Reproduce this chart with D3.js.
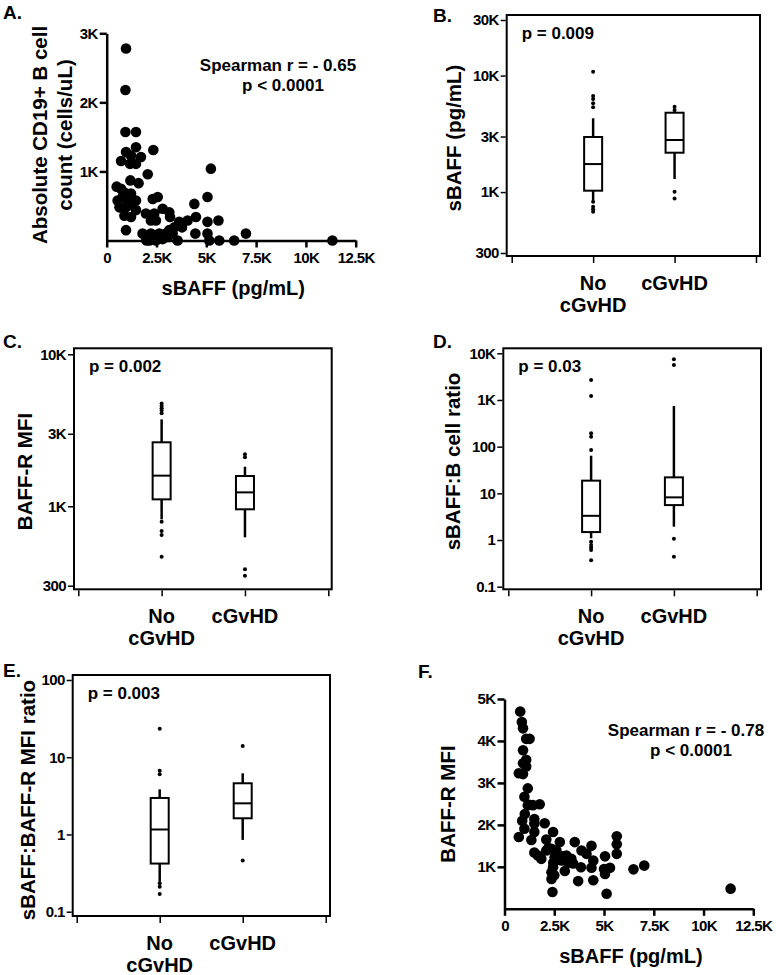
<!DOCTYPE html>
<html>
<head>
<meta charset="utf-8">
<script src="https://cdn.jsdelivr.net/npm/d3@7"></script>
<style>
    body { margin: 0; background: #fff; }
    svg { display: block; font-family: 'Liberation Sans', Arial, Helvetica, sans-serif; font-weight: bold; }
</style>
</head>
<body>
<svg width="776" height="975"></svg>
<script>
// ---- data ----
var categories = ['No cGvHD', 'cGvHD'];

// A: sBAFF (pg/mL) vs absolute CD19+ B cell count (cells/uL)
var aBaff = [970, 940, 940, 1470, 970, 1470, 1220, 1720, 720, 1170, 1470, 2060, 1190, 1600, 500,
    720, 970, 1220, 550, 800, 1140, 1470, 640, 970, 1300, 1470, 890, 1220, 970, 2340, 2560, 2310,
    2810, 2390, 1970, 3140, 3180, 2220, 2470, 3640, 3780, 4060, 3390, 3140, 1800, 1970, 2220, 2640,
    2970, 3310, 3560, 2470, 2810, 3060, 4400, 4480, 5060, 5230, 5060, 5610, 4450, 5060, 5150, 5650,
    6400, 6990, 11330, 2000, 2140, 1050, 850];
var aBcells = [2780, 2180, 1570, 1570, 1280, 1350, 1230, 1210, 1150, 1110, 1110, 960, 870, 830, 780,
    750, 680, 680, 580, 630, 580, 580, 480, 480, 510, 440, 360, 340, 150, 1310, 630, 600,
    460, 390, 390, 410, 340, 290, 290, 270, 190, 290, 190, 150, 100, 50, 100, 100,
    100, 100, 0, 0, 20, 50, 530, 340, 630, 1040, 270, 290, 100, 100, 0, 0,
    0, 100, 0, 0, 0, 560, 700];

// F: sBAFF (pg/mL) vs BAFF-R MFI
var fBaff = [790, 870, 930, 1090, 1260, 930, 1090, 930, 720, 930, 1090, 1170, 1000, 1170, 1430, 1770,
    1020, 1500, 890, 1500, 2020, 1000, 1500, 720, 2440, 1350, 2100, 1500, 1680, 1850, 2100, 2360,
    2610, 2780, 2520, 2860, 3110, 3360, 3450, 2440, 2360, 2360, 3030, 3530, 3870, 4120, 4370, 4460,
    4370, 3840, 3700, 4460, 5050, 5050, 5300, 5640, 5640, 5640, 6480, 7020, 5130, 2410, 11360,
    2200, 2600, 2900, 3200, 5000, 1250, 2450, 2500];
var fMfi = [4700, 4450, 4300, 4050, 4050, 3780, 3550, 3470, 3230, 3210, 3390, 2870, 2670, 2470, 2470, 2490,
    2260, 2140, 2100, 2030, 2040, 1910, 1830, 1710, 1830, 1640, 1650, 1340, 1270, 1190, 1390, 1430,
    1390, 1590, 1230, 1150, 1270, 1190, 1080, 990, 870, 710, 900, 1590, 1390, 1310, 1500, 1150,
    980, 990, 660, 680, 1250, 830, 980, 1730, 1540, 1310, 940, 1030, 360, 400, 480,
    1450, 1200, 1250, 1100, 950, 2480, 1100, 800];

var scatterXTicks = [0, 2500, 5000, 7500, 10000, 12500];
var aYTicks = [1000, 2000, 3000];
var fYTicks = [1000, 2000, 3000, 4000, 5000];

// box plots: [lower whisker, Q1, median, Q3, upper whisker] per category, plus outliers
var bStats = [[855, 1028, 1740, 2970, 4300], [1294, 2178, 2800, 4800, 5000]];
var bOutliers = [[10800, 6680, 6300, 5780, 5340, 826, 749, 711, 679], [5400, 5060, 1007, 881]];
var bTicks = [300, 1000, 3000, 10000, 30000];

var cStats = [[820, 1110, 1590, 2635, 3730], [624, 955, 1234, 1581, 1820]];
var cOutliers = [[4750, 4570, 4415, 4260, 4095, 790, 687, 646, 466], [2200, 2100, 385, 349]];
var cTicks = [300, 1000, 3000, 10000];

var dStats = [[1.09, 1.48, 3.3, 18.7, 64], [1.93, 5.6, 8.2, 22, 743]];
var dOutliers = [[2680, 1220, 193, 164, 85, 0.92, 0.78, 0.69, 0.61, 0.37], [7430, 5620, 1.07, 0.44]];
var dTicks = [0.1, 1, 10, 100, 1000, 10000];

var eStats = [[0.245, 0.42, 1.16, 2.97, 3.84], [0.85, 1.62, 2.53, 4.6, 6.2]];
var eOutliers = [[23.4, 6.7, 6.0, 0.233, 0.211, 0.169], [14, 0.46]];
var eTicks = [0.1, 1, 10, 100];

// ---- drawing ----
var svg = d3.select('svg');

function kFormat(d) {
    if (d >= 1000) {
        return (d / 1000) + 'K';
    }
    return String(d);
}

function styleAxis(g, width) {
    g.attr('font-family', null).attr('font-size', null);
    g.selectAll('line').attr('stroke', '#000').attr('stroke-width', width);
    g.selectAll('path').attr('stroke', '#000').attr('stroke-width', width);
    g.selectAll('text')
        .attr('fill', '#000')
        .style('font-size', '15px')
        .style('letter-spacing', '-0.6px');
}

function panelLabel(text, x, y) {
    svg.append('text')
        .attr('x', x)
        .attr('y', y)
        .style('font-size', '19px')
        .text(text);
}

function yTitle(lines, cx, cy) {
    var t = svg.append('text')
        .attr('transform', 'translate(' + cx + ',' + cy + ') rotate(-90)')
        .attr('text-anchor', 'middle')
        .style('font-size', '20.5px');
    lines.forEach(function (line, i) {
        t.append('tspan')
            .attr('x', 0)
            .attr('dy', i === 0 ? '0.35em' : '1.2em')
            .text(line);
    });
}

function scatterPanel(o) {
    var x = d3.scaleLinear().domain([0, 12500]).range([o.left, o.right]),
        y = d3.scaleLinear().domain([0, o.yMax]).range([o.bottom, o.top]);

    var gx = svg.append('g')
        .attr('transform', 'translate(0,' + o.bottom + ')')
        .call(d3.axisBottom(x).tickValues(scatterXTicks).tickFormat(kFormat)
            .tickSize(7).tickSizeOuter(0).tickPadding(5));
    styleAxis(gx, 2.5);

    var gy = svg.append('g')
        .attr('transform', 'translate(' + o.left + ',0)')
        .call(d3.axisLeft(y).tickValues(o.yTicks).tickFormat(kFormat)
            .tickSize(7).tickSizeOuter(0).tickPadding(2));
    styleAxis(gy, 2.5);

    svg.append('g').selectAll('circle')
        .data(o.xs)
        .enter()
        .append('circle')
        .attr('cx', function (d) { return x(d); })
        .attr('cy', function (d, i) { return y(o.ys[i]); })
        .attr('r', 5.3)
        .attr('fill', '#000');

    svg.append('text')
        .attr('x', (o.left + o.right) / 2 + 2)
        .attr('y', o.bottom + 54)
        .attr('text-anchor', 'middle')
        .style('font-size', '20px')
        .text('sBAFF (pg/mL)');

    svg.append('text')
        .attr('x', o.statX)
        .attr('y', o.statY)
        .attr('text-anchor', 'middle')
        .style('font-size', '17px')
        .text(o.statText);
    svg.append('text')
        .attr('x', o.statX + 5)
        .attr('y', o.statY + 20)
        .attr('text-anchor', 'middle')
        .style('font-size', '17px')
        .text('p < 0.0001');
}

function boxPanel(o) {
    var y = d3.scaleLog().domain(o.yDomain).range([o.yBottom, o.yTop]),
        x = d3.scaleLinear().domain([0, 3]).range(o.xRange),
        boxWidth = 18;

    svg.append('rect')
        .attr('x', o.frame[0])
        .attr('y', o.frame[1])
        .attr('width', o.frame[2] - o.frame[0])
        .attr('height', o.frame[3] - o.frame[1])
        .attr('fill', 'none')
        .attr('stroke', '#000')
        .attr('stroke-width', 2);

    var gy = svg.append('g')
        .attr('transform', 'translate(' + (o.frame[0] - 1) + ',0)')
        .call(d3.axisLeft(y).tickValues(o.yTicks).tickFormat(kFormat)
            .tickSize(5).tickSizeOuter(0).tickPadding(2));
    gy.select('.domain').remove();
    styleAxis(gy, 1.5);

    var gx = svg.append('g')
        .attr('transform', 'translate(0,' + (o.frame[3] + 1) + ')')
        .call(d3.axisBottom(x).tickValues([0, 1, 2, 3]).tickFormat('')
            .tickSize(6).tickSizeOuter(0));
    gx.select('.domain').remove();
    styleAxis(gx, 1.5);

    var groups = svg.append('g').selectAll('g')
        .data(o.stats)
        .enter()
        .append('g')
        .attr('transform', function (d, i) { return 'translate(' + x(i + 1) + ',0)'; });

    groups.append('line')
        .attr('y1', function (d) { return y(d[0]); })
        .attr('y2', function (d) { return y(d[4]); })
        .attr('stroke', '#000')
        .attr('stroke-width', 2.5);

    groups.append('rect')
        .attr('x', -boxWidth / 2)
        .attr('y', function (d) { return y(d[3]); })
        .attr('width', boxWidth)
        .attr('height', function (d) { return y(d[1]) - y(d[3]); })
        .attr('fill', '#fff')
        .attr('stroke', '#000')
        .attr('stroke-width', 2);

    groups.append('line')
        .attr('x1', -boxWidth / 2)
        .attr('x2', boxWidth / 2)
        .attr('y1', function (d) { return y(d[2]); })
        .attr('y2', function (d) { return y(d[2]); })
        .attr('stroke', '#000')
        .attr('stroke-width', 2);

    groups.each(function (d, i) {
        d3.select(this).selectAll('circle')
            .data(o.outliers[i])
            .enter()
            .append('circle')
            .attr('cy', function (v) { return y(v); })
            .attr('r', 2)
            .attr('fill', '#000');
    });

    // category labels
    var base = o.frame[3] + 34;
    svg.append('text')
        .attr('x', x(1))
        .attr('y', base)
        .attr('text-anchor', 'middle')
        .style('font-size', '20px')
        .text(categories[0].split(' ')[0]);
    svg.append('text')
        .attr('x', x(1))
        .attr('y', base + 22)
        .attr('text-anchor', 'middle')
        .style('font-size', '20px')
        .text(categories[0].split(' ')[1]);
    svg.append('text')
        .attr('x', x(2))
        .attr('y', base)
        .attr('text-anchor', 'middle')
        .style('font-size', '20px')
        .text(categories[1]);

    svg.append('text')
        .attr('x', o.frame[0] + 15)
        .attr('y', o.frame[1] + 24)
        .style('font-size', '17px')
        .text(o.pText);
}

// A
panelLabel('A.', 3, 19);
scatterPanel({
    left: 106.7, right: 355.7, top: 33.3, bottom: 240.5, yMax: 3000,
    yTicks: aYTicks, xs: aBaff, ys: aBcells,
    statX: 278, statY: 71, statText: 'Spearman r = - 0.65'
});
yTitle(['Absolute CD19+ B cell', 'count (cells/uL)'], 40, 135);

// B
panelLabel('B.', 433, 22);
boxPanel({
    frame: [506.7, 15, 760, 256], yDomain: [300, 30000], yBottom: 253, yTop: 20,
    xRange: [511.7, 756], yTicks: bTicks, stats: bStats, outliers: bOutliers, pText: 'p = 0.009'
});
yTitle(['sBAFF (pg/mL)'], 454, 138);

// C
panelLabel('C.', 3, 348);
boxPanel({
    frame: [74, 348.3, 331.7, 589.3], yDomain: [300, 10000], yBottom: 585.7, yTop: 354.3,
    xRange: [78.3, 328.3], yTicks: cTicks, stats: cStats, outliers: cOutliers, pText: 'p = 0.002'
});
yTitle(['BAFF-R MFI'], 25, 471.5);

// D
panelLabel('D.', 433, 348);
boxPanel({
    frame: [503.3, 348.3, 761, 589.3], yDomain: [0.1, 10000], yBottom: 586.7, yTop: 353.3,
    xRange: [508.3, 756.7], yTicks: dTicks, stats: dStats, outliers: dOutliers, pText: 'p = 0.03'
});
yTitle(['sBAFF:B cell ratio'], 453, 461.5);

// E
panelLabel('E.', 3, 677);
boxPanel({
    frame: [72.7, 675, 330, 916], yDomain: [0.1, 100], yBottom: 911.7, yTop: 680,
    xRange: [76.7, 325.7], yTicks: eTicks, stats: eStats, outliers: eOutliers, pText: 'p = 0.003'
});
yTitle(['sBAFF:BAFF-R MFI ratio'], 28, 800);

// F
panelLabel('F.', 418, 678);
scatterPanel({
    left: 504.5, right: 753.3, top: 699, bottom: 908.8, yMax: 5000,
    yTicks: fYTicks, xs: fBaff, ys: fMfi,
    statX: 686, statY: 736, statText: 'Spearman r = - 0.78'
});
yTitle(['BAFF-R MFI'], 448, 804);
</script>
</body>
</html>
